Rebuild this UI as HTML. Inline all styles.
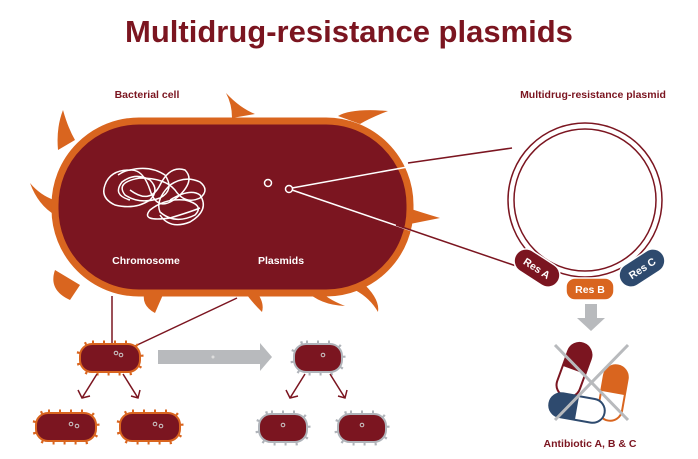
<!DOCTYPE html>
<html><head><meta charset="utf-8"><style>
html,body{margin:0;padding:0;background:#fff;}
svg{display:block;font-family:"Liberation Sans",sans-serif;}
</style></head><body>
<svg width="698" height="459" viewBox="0 0 698 459">
<defs>
<g id="mc">
<rect x="-31" y="-15" width="62" height="30" rx="13" fill="none" stroke="#d9651f" stroke-width="5" stroke-dasharray="2 9"/>
<rect x="-30" y="-14" width="60" height="28" rx="12" fill="#7b1520" stroke="#d9651f" stroke-width="2"/>
</g>
<g id="gc">
<rect x="-25" y="-15" width="50" height="30" rx="13" fill="none" stroke="#b0b4ba" stroke-width="5" stroke-dasharray="2 9"/>
<rect x="-24" y="-14" width="48" height="28" rx="12" fill="#7b1520" stroke="#b0b4ba" stroke-width="2"/>
</g>
</defs>
<text x="349" y="42" text-anchor="middle" font-size="31" font-weight="bold" fill="#7b1520">Multidrug-resistance plasmids</text>
<text x="147" y="98" text-anchor="middle" font-size="10.5" font-weight="bold" fill="#7b1520">Bacterial cell</text>
<text x="593" y="98" text-anchor="middle" font-size="10.5" font-weight="bold" fill="#7b1520">Multidrug-resistance plasmid</text>

<g fill="#d9651f">
<path d="M226,93 Q240,108 255,114 L232,118 Q232,104 226,93Z"/>
<path d="M338,116 Q352,108 388,111 Q370,118 360,124Z"/>
<path d="M63,110 Q68,128 75,140 L58,150 Q56,128 63,110Z"/>
<path d="M30,183 Q40,195 54,200 L55,215 Q38,205 30,183Z"/>
<path d="M405,207 Q420,212 440,218 Q420,222 405,225Z"/>
<path d="M55,270 Q48,290 70,300 L80,285Z"/>
<path d="M145,290 Q140,305 155,313 L165,290Z"/>
<path d="M255,290 Q265,302 262,312 Q250,300 245,292Z"/>
<path d="M305,290 Q320,305 345,306 Q325,298 320,290Z"/>
<path d="M365,285 Q380,300 378,312 Q370,298 355,290Z"/>
</g>
<rect x="55" y="121" width="355" height="172" rx="84" fill="#7b1520" stroke="#d9651f" stroke-width="7"/>
<g fill="none" stroke="#fff" stroke-width="1.5">
<path d="M105,185 Q110,170 130,170 Q150,165 165,175 Q175,190 160,198 Q140,205 125,195 Q115,182 140,178 Q165,178 175,190 Q185,205 200,198 Q210,190 200,182 Q185,175 170,185 Q155,200 160,212 Q175,225 195,215 Q205,205 185,200 Q165,198 150,210 Q140,222 170,218 Q190,212 200,208"/>
<path d="M105,185 Q100,198 115,205 Q135,210 150,200 Q160,190 150,180 Q135,172 122,182 Q112,195 130,200"/>
<path d="M118,175 Q140,160 150,190 Q158,215 180,195 Q195,180 185,170 Q170,165 160,185 Q150,205 130,190"/>
<path d="M170,200 Q190,188 200,195 Q210,210 190,222 Q170,230 160,215"/>
</g>
<circle cx="268" cy="183" r="3.5" fill="none" stroke="#fff" stroke-width="1.5"/>
<circle cx="289" cy="189" r="3.5" fill="none" stroke="#fff" stroke-width="1.5"/>
<text x="146" y="264" text-anchor="middle" font-size="10.5" font-weight="bold" fill="#fff">Chromosome</text>
<text x="281" y="264" text-anchor="middle" font-size="10.5" font-weight="bold" fill="#fff">Plasmids</text>
<line x1="292" y1="188" x2="512" y2="148" stroke="#fff" stroke-width="1.5"/>
<line x1="292" y1="190" x2="515" y2="266" stroke="#fff" stroke-width="1.5"/>
<line x1="408" y1="163" x2="512" y2="148" stroke="#7b1520" stroke-width="1.5"/>
<line x1="396" y1="225" x2="522" y2="268" stroke="#7b1520" stroke-width="1.5"/>
<circle cx="585" cy="200" r="77" fill="none" stroke="#7b1520" stroke-width="1.5"/>
<circle cx="585" cy="200" r="71" fill="none" stroke="#7b1520" stroke-width="1.5"/>
<g transform="translate(537,268) rotate(33)"><rect x="-25" y="-12" width="50" height="24" rx="12" fill="#7b1520" stroke="#fff" stroke-width="1.5"/><text y="4" text-anchor="middle" font-size="10.5" font-weight="bold" fill="#fff">Res A</text></g>
<g transform="translate(590,289)"><rect x="-24" y="-11" width="48" height="22" rx="9" fill="#d9651f" stroke="#fff" stroke-width="1.5"/><text y="4" text-anchor="middle" font-size="10.5" font-weight="bold" fill="#fff">Res B</text></g>
<g transform="translate(642,268) rotate(-33)"><rect x="-25" y="-12" width="50" height="24" rx="12" fill="#2e4a6e" stroke="#fff" stroke-width="1.5"/><text y="4" text-anchor="middle" font-size="10.5" font-weight="bold" fill="#fff">Res C</text></g>
<path d="M585,304 h12 v14 h8 l-14,13 l-14,-13 h8z" fill="#b8babd"/>
<g transform="translate(574,370) rotate(20)"><rect x="-12" y="-28" width="24" height="56" rx="12" fill="#fff" stroke="#7b1520" stroke-width="2"/><path d="M-12,0 v-16 a12,12 0 0 1 24,0 v16z" fill="#7b1520"/></g>
<g transform="translate(613,393) rotate(10)"><rect x="-12" y="-28" width="24" height="56" rx="12" fill="#fff" stroke="#d9651f" stroke-width="2"/><path d="M-12,0 v-16 a12,12 0 0 1 24,0 v16z" fill="#d9651f"/></g>
<g transform="translate(577,408) rotate(-80)"><rect x="-12" y="-28" width="24" height="56" rx="12" fill="#fff" stroke="#2e4a6e" stroke-width="2"/><path d="M-12,0 v-16 a12,12 0 0 1 24,0 v16z" fill="#2e4a6e"/></g>
<line x1="555" y1="345" x2="628" y2="420" stroke="#b8babd" stroke-width="3"/>
<line x1="628" y1="345" x2="555" y2="420" stroke="#b8babd" stroke-width="3"/>
<text x="590" y="447" text-anchor="middle" font-size="10.5" font-weight="bold" fill="#7b1520">Antibiotic A, B &amp; C</text>
<line x1="112" y1="296" x2="112" y2="344" stroke="#7b1520" stroke-width="1.5"/>
<line x1="237" y1="298" x2="135" y2="346" stroke="#7b1520" stroke-width="1.5"/>
<use href="#mc" x="110" y="358"/>
<circle cx="116" cy="353" r="1.8" fill="none" stroke="#ccc"/><circle cx="121" cy="355" r="1.8" fill="none" stroke="#ccc"/>
<path d="M158,350 h102 v-7 l12,14 l-12,14 v-7 h-102z" fill="#b8babd"/>
<circle cx="213" cy="357" r="1.5" fill="#ddd"/>
<use href="#gc" x="318" y="358"/><circle cx="323" cy="355" r="1.8" fill="none" stroke="#ccc"/>
<g stroke="#7b1520" stroke-width="1.5" fill="none">
<path d="M97,374 L82,398 M78,390 L82,398 L90,396"/>
<path d="M123,374 L138,398 M131,396 L138,398 L140,390"/>
<path d="M305,374 L290,398 M286,390 L290,398 L298,396"/>
<path d="M330,374 L345,398 M338,396 L345,398 L347,390"/>
</g>
<use href="#mc" x="66" y="427"/>
<circle cx="71" cy="424" r="1.8" fill="none" stroke="#ccc"/><circle cx="77" cy="426" r="1.8" fill="none" stroke="#ccc"/>
<use href="#mc" x="150" y="427"/>
<circle cx="155" cy="424" r="1.8" fill="none" stroke="#ccc"/><circle cx="161" cy="426" r="1.8" fill="none" stroke="#ccc"/>
<use href="#gc" x="283" y="428"/><circle cx="283" cy="425" r="1.8" fill="none" stroke="#ccc"/>
<use href="#gc" x="362" y="428"/><circle cx="362" cy="425" r="1.8" fill="none" stroke="#ccc"/>
</svg>
</body></html>
